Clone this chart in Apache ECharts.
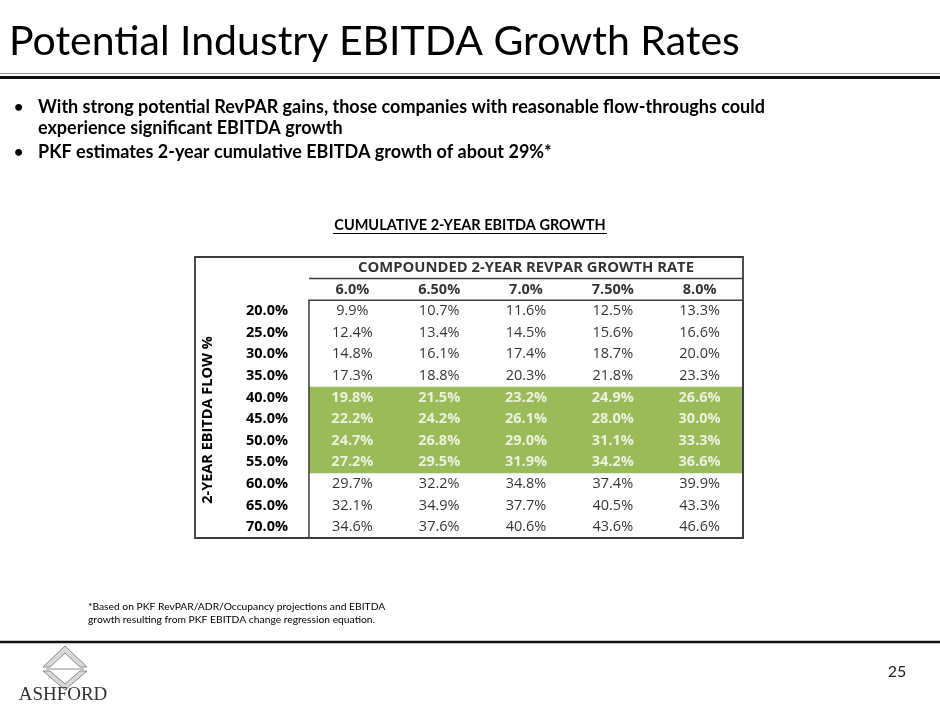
<!DOCTYPE html>
<html>
<head>
<meta charset="utf-8">
<script src="https://cdn.jsdelivr.net/npm/echarts@6/dist/echarts.min.js"></script>
<style>
html,body{margin:0;padding:0;background:#fff;}
#c{width:940px;height:705px;}
</style>
</head>
<body>
<div id="c"></div>
<script>
// ---------- DATA ----------
const rowLabels = ['20.0%','25.0%','30.0%','35.0%','40.0%','45.0%','50.0%','55.0%','60.0%','65.0%','70.0%'];
const colLabels = ['6.0%','6.50%','7.0%','7.50%','8.0%'];
const flow20 = [9.9, 10.7, 11.6, 12.5, 13.3];
const flow25 = [12.4, 13.4, 14.5, 15.6, 16.6];
const flow30 = [14.8, 16.1, 17.4, 18.7, 20.0];
const flow35 = [17.3, 18.8, 20.3, 21.8, 23.3];
const flow40 = [19.8, 21.5, 23.2, 24.9, 26.6];
const flow45 = [22.2, 24.2, 26.1, 28.0, 30.0];
const flow50 = [24.7, 26.8, 29.0, 31.1, 33.3];
const flow55 = [27.2, 29.5, 31.9, 34.2, 36.6];
const flow60 = [29.7, 32.2, 34.8, 37.4, 39.9];
const flow65 = [32.1, 34.9, 37.7, 40.5, 43.3];
const flow70 = [34.6, 37.6, 40.6, 43.6, 46.6];
const valueRows = [flow20, flow25, flow30, flow35, flow40, flow45, flow50, flow55, flow60, flow65, flow70];
const highlightRows = ['40.0%','45.0%','50.0%','55.0%'];
const columnTitle = 'COMPOUNDED 2-YEAR REVPAR GROWTH RATE';
const rowTitle = '2-YEAR EBITDA FLOW %';
const tableTitle = 'CUMULATIVE 2-YEAR EBITDA GROWTH';
const pageTitle = 'Potential Industry EBITDA Growth Rates';
const bullet1a = 'With strong potential RevPAR gains, those companies with reasonable flow-throughs could';
const bullet1b = 'experience significant EBITDA growth';
const bullet2 = 'PKF estimates 2-year cumulative EBITDA growth of about 29%*';
const footnote1 = '*Based on PKF RevPAR/ADR/Occupancy projections and EBITDA';
const footnote2 = 'growth resulting from PKF EBITDA change regression equation.';
const pageNumber = '25';
const brand = 'ASHFORD';

// ---------- LAYOUT / STYLE ----------
const ROW_OFFSET = 2;              // two header rows above data rows
const X_MIN = -1.813, X_MAX = 4.5; // value axis spanning row-label area + 5 columns
const INNER_LEFT = -0.5;
const BORDER = '#3c3c3c';
const GREEN = '#9BBB59';
const TFONT = '"Open Sans", sans-serif';
const SFONT = 'Lato, "Open Sans", sans-serif';
const TSIZE = 14.5;

const yCats = ['hdr', 'cols'].concat(rowLabels);

const valueData = [];
valueRows.forEach((row, r) => {
  const hi = highlightRows.indexOf(rowLabels[r]) >= 0;
  row.forEach((v, c) => {
    valueData.push({
      value: [c, r + ROW_OFFSET, v],
      label: hi ? { color: '#ffffff', fontWeight: 'bold' } : { color: '#000000', fontWeight: 'normal' }
    });
  });
});

const chart = echarts.init(document.getElementById('c'));

const option = {
  animation: false,
  backgroundColor: '#ffffff',
  grid: { left: 195, right: 197, top: 257, bottom: 167, containLabel: false, outerBoundsMode: 'none' },
  xAxis: { type: 'value', min: X_MIN, max: X_MAX, show: false },
  yAxis: {
    type: 'category',
    data: yCats,
    inverse: true,
    offset: -114,
    axisLine: { show: false },
    axisTick: { show: false },
    splitLine: { show: false },
    axisLabel: {
      margin: 21,
      fontFamily: TFONT,
      fontSize: TSIZE,
      fontWeight: 'bold',
      color: '#000',
      formatter: (v, i) => (i < ROW_OFFSET ? '' : v)
    }
  },
  series: [
    {
      type: 'custom',
      silent: true,
      clip: false,
      z: 1,
      data: [[0, 0]],
      renderItem: (params, api) => {
        const cs = params.coordSys;
        const band = api.size([0, 1])[1];
        const top = i => api.coord([0, i])[1] - band / 2;
        const xL = api.coord([INNER_LEFT, 0])[0];
        const xR = cs.x + cs.width;
        const yB = cs.y + cs.height;
        const hiIdx = highlightRows.map(l => rowLabels.indexOf(l) + ROW_OFFSET);
        const g0 = top(Math.min.apply(null, hiIdx));
        const g1 = top(Math.max.apply(null, hiIdx)) + band;
        const dTop = top(ROW_OFFSET);
        const hTop = top(1);
        return {
          type: 'group',
          children: [
            { type: 'rect', shape: { x: xL, y: g0, width: xR - xL, height: g1 - g0 }, style: { fill: GREEN } },
            { type: 'line', shape: { x1: xL, y1: hTop, x2: xR, y2: hTop }, style: { stroke: BORDER, lineWidth: 1.5 } },
            { type: 'rect', shape: { x: xL, y: dTop, width: xR - xL, height: yB - dTop }, style: { fill: 'none', stroke: BORDER, lineWidth: 1.5 } },
            { type: 'rect', shape: { x: cs.x, y: cs.y, width: cs.width, height: cs.height }, style: { fill: 'none', stroke: BORDER, lineWidth: 1.8 } }
          ]
        };
      }
    },
    {
      type: 'scatter',
      silent: true,
      z: 3,
      symbolSize: 0,
      data: valueData,
      label: {
        show: true,
        position: 'inside',
        fontFamily: TFONT,
        fontSize: TSIZE,
        formatter: p => p.value[2].toFixed(1) + '%'
      }
    },
    {
      type: 'scatter',
      silent: true,
      z: 3,
      symbolSize: 0,
      data: colLabels.map((l, i) => [i, 1]),
      label: {
        show: true,
        position: 'inside',
        fontFamily: TFONT,
        fontSize: TSIZE,
        fontWeight: 'bold',
        color: '#000',
        formatter: p => colLabels[p.dataIndex]
      }
    },
    {
      type: 'scatter',
      silent: true,
      z: 3,
      symbolSize: 0,
      data: [[(INNER_LEFT + X_MAX) / 2, 0]],
      label: {
        show: true,
        position: 'inside',
        fontFamily: TFONT,
        fontSize: 14.8,
        fontWeight: 'bold',
        color: '#000',
        formatter: () => columnTitle
      }
    }
  ],
  graphic: [
    // page title
    { type: 'text', style: { text: pageTitle, x: 9, y: 42, font: '41px ' + SFONT, fill: '#000', textAlign: 'left', textVerticalAlign: 'middle' } },
    { type: 'line', shape: { x1: 0, y1: 73.5, x2: 940, y2: 73.5 }, style: { stroke: '#9a9a9a', lineWidth: 1 } },
    { type: 'line', shape: { x1: 0, y1: 77.5, x2: 940, y2: 77.5 }, style: { stroke: '#111', lineWidth: 3 } },
    // bullets
    { type: 'text', style: { text: '•', x: 14, y: 107, font: 'bold 16px ' + SFONT, fill: '#000', textVerticalAlign: 'middle' } },
    { type: 'text', style: { text: bullet1a, x: 38, y: 107, font: 'bold 18px ' + SFONT, fill: '#000', textVerticalAlign: 'middle' } },
    { type: 'text', style: { text: bullet1b, x: 38, y: 128, font: 'bold 18px ' + SFONT, fill: '#000', textVerticalAlign: 'middle' } },
    { type: 'text', style: { text: '•', x: 14, y: 152, font: 'bold 16px ' + SFONT, fill: '#000', textVerticalAlign: 'middle' } },
    { type: 'text', style: { text: bullet2, x: 38, y: 152, font: 'bold 18px ' + SFONT, fill: '#000', textVerticalAlign: 'middle' } },
    // table title
    { type: 'text', style: { text: tableTitle, x: 470, y: 225, font: 'bold 14.5px ' + SFONT, fill: '#000', textAlign: 'center', textVerticalAlign: 'middle' } },
    { type: 'line', shape: { x1: 333, y1: 233.5, x2: 607, y2: 233.5 }, style: { stroke: '#000', lineWidth: 1 } },
    // row title (rotated)
    { type: 'text', rotation: Math.PI / 2, x: 208, y: 420, style: { text: rowTitle, x: 0, y: 0, font: 'bold 14.5px ' + TFONT, fill: '#000', textAlign: 'center', textVerticalAlign: 'middle' } },
    // footnote
    { type: 'text', style: { text: footnote1, x: 88, y: 607, font: '10.3px ' + SFONT, fill: '#000', textVerticalAlign: 'middle' } },
    { type: 'text', style: { text: footnote2, x: 88, y: 620, font: '10.3px ' + SFONT, fill: '#000', textVerticalAlign: 'middle' } },
    // footer
    { type: 'line', shape: { x1: 0, y1: 642, x2: 940, y2: 642 }, style: { stroke: '#111', lineWidth: 2.5 } },
    { type: 'text', style: { text: pageNumber, x: 897, y: 672, font: '16px ' + SFONT, fill: '#222', textAlign: 'center', textVerticalAlign: 'middle' } },
    // logo
    { type: 'polygon', shape: { points: [[65, 646], [87, 667], [80, 667], [65, 653], [50, 667], [43, 667]] }, style: { fill: '#d9d9d9', stroke: '#8a8a8a', lineWidth: 1 } },
    { type: 'line', shape: { x1: 46, y1: 669, x2: 84, y2: 669 }, style: { stroke: '#8a8a8a', lineWidth: 1 } },
    { type: 'polygon', shape: { points: [[43, 671], [65, 690], [87, 671], [80, 671], [65, 684], [50, 671]] }, style: { fill: '#d9d9d9', stroke: '#8a8a8a', lineWidth: 1 } },
    { type: 'text', style: { text: brand, x: 63, y: 695, font: '19px "Liberation Serif", "DejaVu Serif", serif', fill: '#333', textAlign: 'center', textVerticalAlign: 'middle' } }
  ]
};

chart.setOption(option);
</script>
</body>
</html>
